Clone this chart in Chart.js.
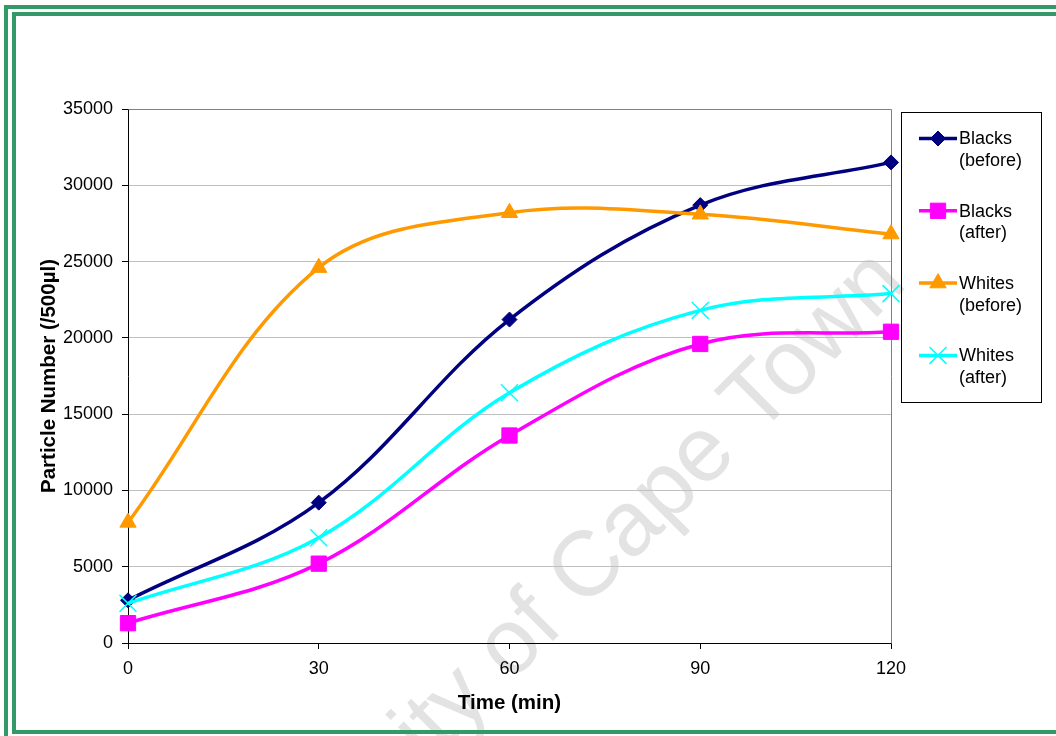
<!DOCTYPE html>
<html>
<head>
<meta charset="utf-8">
<script src="https://cdn.jsdelivr.net/npm/chart.js@4/dist/chart.umd.min.js"></script>
<style>
  html, body { margin: 0; padding: 0; background: #ffffff; }
  #wrap { width: 1056px; height: 736px; position: relative; }
  canvas { display: block; background: #ffffff; }
</style>
</head>
<body>
<div id="wrap"><canvas id="c" width="1056" height="736"></canvas></div>
<script>
// Sampling times (min)
const times = [0, 30, 60, 90, 120];

// Particle counts per 500 µl
const blacksBefore = [2800, 9200, 21200, 28700, 31500];
const blacksAfter  = [1300, 5200, 13600, 19600, 20400];
const whitesBefore = [7900, 24600, 28200, 28100, 26800];
const whitesAfter  = [2600, 6900, 16400, 21800, 22900];

// Axis ticks
const xTicks = [0, 30, 60, 90, 120];
const yTicks = [0, 5000, 10000, 15000, 20000, 25000, 30000, 35000];

// Legend text (two lines each)
const seriesLabels = [
  ['Blacks', '(before)'],
  ['Blacks', '(after)'],
  ['Whites', '(before)'],
  ['Whites', '(after)']
];

const FONT = '"Liberation Sans", Arial, Helvetica, sans-serif';

const styles = [
  { color: '#000080', point: 'rectRot',  radius: 7.5,  pbw: 1 },
  { color: '#FF00FF', point: 'rect',     radius: 10.8, pbw: 1 },
  { color: '#FF9900', point: 'triangle', radius: 9.4,  pbw: 1 },
  { color: '#00FFFF', point: 'crossRot', radius: 12,   pbw: 1.5 }
];

const seriesValues = [blacksBefore, blacksAfter, whitesBefore, whitesAfter];

const datasets = seriesValues.map((vals, i) => ({
  label: seriesLabels[i].join(' '),
  data: times.map((t, k) => ({ x: t, y: vals[k] })),
  borderColor: styles[i].color,
  backgroundColor: styles[i].color,
  borderWidth: 3.5,
  pointStyle: styles[i].point,
  pointRadius: styles[i].radius,
  pointBorderWidth: styles[i].pbw,
  pointBackgroundColor: styles[i].color,
  pointBorderColor: styles[i].color,
  tension: 0.36,
  clip: false,
  order: seriesValues.length - i
}));

// Faint background watermark
const watermark = {
  id: 'watermark',
  beforeDraw(chart) {
    const ctx = chart.ctx;
    ctx.save();
    ctx.fillStyle = '#e3e3e3';
    ctx.font = '92px ' + FONT;
    ctx.textBaseline = 'alphabetic';
    ctx.textAlign = 'left';
    ctx.translate(757, 437);
    ctx.rotate(-Math.PI / 4);
    const lead = ctx.measureText('University of Cape ').width;
    ctx.fillText('University of Cape Town', -lead, 0);
    ctx.restore();
  }
};

// Grey frame on the top and right of the plot area
const plotFrame = {
  id: 'plotFrame',
  beforeDatasetsDraw(chart) {
    const { ctx, chartArea: a } = chart;
    ctx.save();
    ctx.strokeStyle = '#808080';
    ctx.lineWidth = 1;
    ctx.beginPath();
    ctx.moveTo(Math.round(a.left) + 0.5, Math.round(a.top) + 0.5);
    ctx.lineTo(Math.round(a.right) + 0.5, Math.round(a.top) + 0.5);
    ctx.lineTo(Math.round(a.right) + 0.5, Math.round(a.bottom) + 0.5);
    ctx.stroke();
    ctx.restore();
  }
};

function drawMarker(ctx, style, r, x, y, color, bw) {
  ctx.save();
  ctx.fillStyle = color;
  ctx.strokeStyle = color;
  ctx.lineWidth = bw;
  ctx.beginPath();
  if (style === 'rectRot') {
    ctx.moveTo(x - r, y); ctx.lineTo(x, y - r); ctx.lineTo(x + r, y); ctx.lineTo(x, y + r);
    ctx.closePath(); ctx.fill(); ctx.stroke();
  } else if (style === 'rect') {
    const s = r * Math.SQRT1_2;
    ctx.rect(x - s, y - s, 2 * s, 2 * s); ctx.fill(); ctx.stroke();
  } else if (style === 'triangle') {
    ctx.moveTo(x, y - r);
    ctx.lineTo(x + r * Math.sin(2 * Math.PI / 3), y - r * Math.cos(2 * Math.PI / 3));
    ctx.lineTo(x + r * Math.sin(4 * Math.PI / 3), y - r * Math.cos(4 * Math.PI / 3));
    ctx.closePath(); ctx.fill(); ctx.stroke();
  } else if (style === 'crossRot') {
    const o = r * Math.SQRT1_2;
    ctx.moveTo(x - o, y - o); ctx.lineTo(x + o, y + o);
    ctx.moveTo(x - o, y + o); ctx.lineTo(x + o, y - o);
    ctx.stroke();
  }
  ctx.restore();
}

// Boxed legend to the right of the plot, plus the green page frame
const sideLegend = {
  id: 'sideLegend',
  afterDraw(chart) {
    const ctx = chart.ctx;
    ctx.save();
    ctx.strokeStyle = '#000000';
    ctx.lineWidth = 1;
    ctx.strokeRect(901.5, 112.5, 140, 290);
    ctx.font = '18px ' + FONT;
    ctx.fillStyle = '#000000';
    ctx.textBaseline = 'middle';
    ctx.textAlign = 'left';
    seriesLabels.forEach((lines, i) => {
      const cy = 138.5 + i * 72.3;
      const st = styles[i];
      ctx.save();
      ctx.strokeStyle = st.color;
      ctx.lineWidth = 3.5;
      ctx.beginPath();
      ctx.moveTo(919, cy);
      ctx.lineTo(957, cy);
      ctx.stroke();
      ctx.restore();
      drawMarker(ctx, st.point, st.radius, 938, cy, st.color, st.pbw);
      lines.forEach((t, j) => ctx.fillText(t, 959, cy + 1 + j * 21.5));
    });

    // double green page frame
    ctx.fillStyle = '#339966';
    ctx.fillRect(4, 5, 4, 731);
    ctx.fillRect(4, 5, 1052, 4);
    ctx.fillRect(12, 12, 4, 722);
    ctx.fillRect(12, 12, 1044, 4);
    ctx.fillRect(12, 730, 1044, 4);
    ctx.restore();
  }
};

new Chart(document.getElementById('c'), {
  type: 'line',
  data: { datasets },
  plugins: [watermark, plotFrame, sideLegend],
  options: {
    responsive: false,
    animation: false,
    events: [],
    layout: { padding: { left: 0, top: 109, right: 165, bottom: 0 } },
    plugins: { legend: { display: false }, tooltip: { enabled: false } },
    scales: {
      x: {
        type: 'linear',
        min: xTicks[0],
        max: xTicks[xTicks.length - 1],
        afterBuildTicks(scale) { scale.ticks = xTicks.map(v => ({ value: v })); },
        afterFit(scale) { scale.height = 93; },
        ticks: {
          color: '#000000',
          font: { family: FONT, size: 18 },
          padding: 9,
          maxRotation: 0,
          callback: v => String(v)
        },
        grid: { drawOnChartArea: false, drawTicks: true, tickLength: 6, tickColor: '#000000' },
        border: { display: true, color: '#000000', width: 1 },
        title: {
          display: true,
          text: 'Time (min)',
          color: '#000000',
          font: { family: FONT, size: 20.5, weight: 'bold' },
          padding: { top: 0, bottom: 20 }
        }
      },
      y: {
        type: 'linear',
        min: yTicks[0],
        max: yTicks[yTicks.length - 1],
        afterBuildTicks(scale) { scale.ticks = yTicks.map(v => ({ value: v })); },
        afterFit(scale) { scale.width = 128; },
        ticks: {
          color: '#000000',
          font: { family: FONT, size: 18 },
          padding: 9,
          callback: v => String(v)
        },
        grid: { color: '#c0c0c0', lineWidth: 1, drawTicks: true, tickLength: 6, tickColor: '#000000' },
        border: { display: true, color: '#000000', width: 1 },
        title: {
          display: true,
          text: 'Particle Number (/500µl)',
          color: '#000000',
          font: { family: FONT, size: 20.5, weight: 'bold' },
          padding: { top: 37, bottom: 0 }
        }
      }
    }
  }
});
</script>
</body>
</html>
